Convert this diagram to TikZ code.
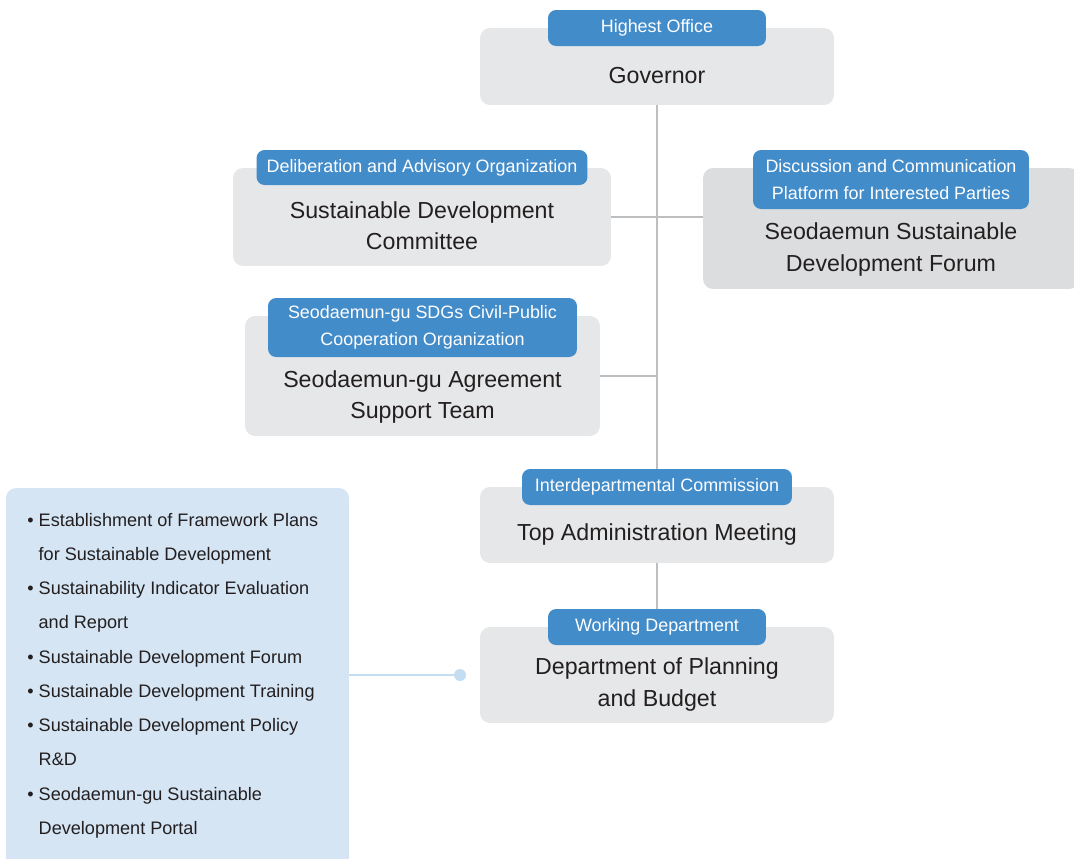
\documentclass[tikz,border=0pt]{standalone}
\usepackage{fontspec}
\setmainfont{Liberation Sans}
\usetikzlibrary{positioning, calc, backgrounds}
\definecolor{tagblue}{RGB}{67,140,202}
\definecolor{boxgray}{RGB}{230,231,232}
\definecolor{forumgray}{RGB}{220,221,222}
\definecolor{listblue}{RGB}{213,229,244}
\definecolor{linkgray}{RGB}{189,190,192}
\definecolor{dotblue}{RGB}{197,221,240}
\definecolor{inkgray}{RGB}{35,31,32}

\begin{document}
\begin{tikzpicture}[x=0.02cm, y=-0.02cm,
  panel/.style={rectangle, rounded corners=0.2cm, fill=boxgray, inner sep=0pt},
  tag/.style={rectangle, rounded corners=0.16cm, fill=tagblue, text=white, align=center, inner sep=0pt, anchor=north, yshift=0.36cm, font=\fontsize{10.2}{15.3}\selectfont},
  title/.style={align=center, text=inkgray, inner sep=0pt, font=\fontsize{13.2}{18}\selectfont},
  link/.style={draw=linkgray, line width=1.6pt},
  bluelink/.style={draw=dotblue, line width=1.6pt},
  dotnode/.style={circle, fill=dotblue, minimum size=0.24cm, inner sep=0pt},
]
  \useasboundingbox (0,0) rectangle (1074,858);

  % boxes
  \node[panel, minimum width=7.08cm, minimum height=1.54cm] (gov) at (657,66.5) {};
  \node[panel, minimum width=7.56cm, minimum height=1.96cm] (com) at (422,217) {};
  \node[panel, fill=forumgray, minimum width=7.52cm, minimum height=2.42cm] (forum) at (891,228.5) {};
  \node[panel, minimum width=7.10cm, minimum height=2.40cm] (agr) at (422.5,376) {};
  \node[panel, minimum width=7.08cm, minimum height=1.52cm] (top) at (657,525) {};
  \node[panel, minimum width=7.08cm, minimum height=1.92cm] (dept) at (657,675) {};
  \node[panel, fill=listblue, minimum width=6.86cm, minimum height=7.64cm] (list) at (177.5,679) {};

  % blue tags
  \node[tag, minimum width=4.36cm, minimum height=0.72cm] (govtag) at (gov.north) {Highest Office};
  \node[tag, minimum width=6.62cm, minimum height=0.70cm] (comtag) at (com.north) {Deliberation and Advisory Organization};
  \node[tag, minimum width=5.52cm, minimum height=1.18cm] (forumtag) at (forum.north) {Discussion and Communication\\Platform for Interested Parties};
  \node[tag, minimum width=6.18cm, minimum height=1.18cm] (agrtag) at (agr.north) {Seodaemun-gu SDGs Civil-Public\\Cooperation Organization};
  \node[tag, minimum width=5.40cm, minimum height=0.72cm] (toptag) at (top.north) {Interdepartmental Commission};
  \node[tag, minimum width=4.36cm, minimum height=0.72cm] (depttag) at (dept.north) {Working Department};

  % titles
  \node[title] (govtxt) at ($(govtag.south)!0.5!(gov.south)$) {Governor};
  \node[title] (comtxt) at ($(comtag.south)!0.5!(com.south)$) {Sustainable Development\\Committee};
  \node[title] (forumtxt) at ($(forumtag.south)!0.5!(forum.south)$) {Seodaemun Sustainable\\Development Forum};
  \node[title] (agrtxt) at ($(agrtag.south)!0.5!(agr.south)$) {Seodaemun-gu Agreement\\Support Team};
  \node[title] (toptxt) at ($(toptag.south)!0.5!(top.south)$) {Top Administration Meeting};
  \node[title] (depttxt) at ($(depttag.south)!0.5!(dept.south)$) {Department of Planning\\and Budget};

  % task list
  \node[anchor=base west, inner sep=0pt, text=inkgray, font=\fontsize{10.3}{19.5}\selectfont] (tasks) at (27,526) {%
    \begin{tabular}[t]{@{}l@{\hspace{0.1cm}}l@{}}
      \textbullet & Establishment of Framework Plans\\
                  & for Sustainable Development\\
      \textbullet & Sustainability Indicator Evaluation\\
                  & and Report\\
      \textbullet & Sustainable Development Forum\\
      \textbullet & Sustainable Development Training\\
      \textbullet & Sustainable Development Policy\\
                  & R\&D\\
      \textbullet & Seodaemun-gu Sustainable\\
                  & Development Portal
    \end{tabular}};
  \node[dotnode] (dot) at (460,675) {};

  % connectors
  \begin{scope}[on background layer]
    \draw[link] (gov.south) -- (top.north);
    \draw[link] (top.south) -- (dept.north);
    \draw[link] (com.east) -- (com.east -| forum.west);
    \draw[link] (agr.east) -- (agr.east -| gov.south);
    \draw[bluelink] (dot.center -| list.east) -- (dot);
  \end{scope}
\end{tikzpicture}
\end{document}
